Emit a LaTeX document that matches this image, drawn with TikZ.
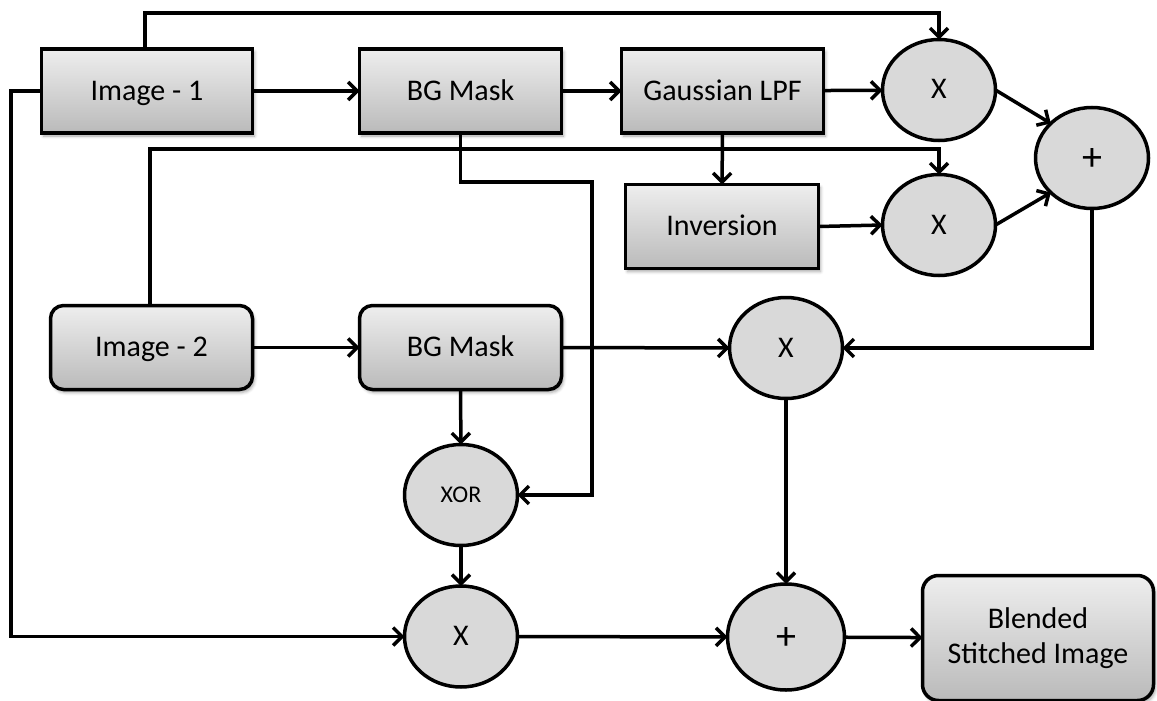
\documentclass[tikz,border=0pt]{standalone}
\usepackage{fontspec}
\setmainfont{Carlito}
\usetikzlibrary{arrows.meta,shapes.geometric,shadows.blur}
\definecolor{boxtop}{RGB}{238,238,238}
\definecolor{boxbot}{RGB}{186,186,186}
\definecolor{opfill}{RGB}{217,217,217}
\begin{document}
\begin{tikzpicture}[x=1pt,y=-1pt,
  line width=3.5pt,
  >={Straight Barb[length=9pt,width=18pt]},
  every node/.style={font=\fontsize{30}{35}\selectfont, align=center, inner sep=0pt, outer sep=0pt},
  label text/.style={text height=20pt, text depth=2pt},
  block/.style={draw, top color=boxtop, bottom color=boxbot, label text,
    blur shadow={shadow xshift=2pt, shadow yshift=-3pt, shadow opacity=35, shadow blur radius=3pt},
    minimum width=#1, minimum height=84pt},
  block/.default=202pt,
  rblock/.style={block=#1, rounded corners=13pt},
  rblock/.default=202pt,
  op/.style={draw, fill=opfill, ellipse, minimum width=113pt, minimum height=101pt, label text},
  plus/.style={font=\fontsize{40}{40}\selectfont, text height=24pt, text depth=0pt},
  flow/.style={->}
]
\useasboundingbox (0,0) rectangle (1157,701);

% processing blocks
\node[block=211pt] (img1) at (147,91) {Image - 1};
\node[block] (bg1) at (460.5,91) {BG Mask};
\node[block] (glpf) at (722.5,91) {Gaussian LPF};
\node[block=193pt] (inv) at (722,226.5) {Inversion};
\node[rblock] (img2) at (151.5,347.5) {Image - 2};
\node[rblock] (bg2) at (460.5,347.5) {BG Mask};
\node[rblock=231pt, minimum height=125pt, rounded corners=16pt, text height=, text depth=] (out) at (1038,638) {Blended\\Stitched Image};

% operators
\node[op] (x1) at (939,90) {X};
\node[op] (x2) at (939,225) {X};
\node[op, plus] (add) at (1092,158) {+};
\node[op] (mm) at (786,348) {X};
\node[op, font=\fontsize{24}{28}\selectfont, text height=15pt, text depth=1pt] (xor) at (461,495) {XOR};
\node[op] (mb) at (461,636.5) {X};
\node[op, plus, minimum width=117pt, minimum height=106pt] (ab) at (786,637) {+};

% routing levels
\coordinate (top) at (0,13);
\coordinate (mid) at (0,149);
\coordinate (bend) at (592,182);
\coordinate (left) at (11,0);

% connectors
\draw[flow] (img1) -- (bg1);
\draw[flow] (bg1) -- (glpf);
\draw[flow] (glpf) -- (x1);
\draw[flow] (glpf) -- (inv);
\draw[flow] (inv.east) -- (x2.west);
\draw[flow] (x1.east) -- (add.140);
\draw[flow] (x2.east) -- (add.220);
\draw[flow] ([xshift=-2pt]img1.north) -- ([xshift=-2pt]img1.north |- top) -| (x1.north);
\draw[flow] ([xshift=-1.5pt]img2.north) -- ([xshift=-1.5pt]img2.north |- mid) -| (x2.north);
\draw[flow] (bg1.south) |- (bend) |- (xor.east);
\draw[flow] (img2) -- (bg2);
\draw[flow] (bg2.east) -- (mm.west);
\draw[flow] (add.south) |- (mm.east);
\draw[flow] (bg2) -- (xor);
\draw[flow] (xor) -- (mb);
\draw[flow] (img1.west) -- (img1.west -| left) |- (mb.west);
\draw[flow] (mb) -- (ab);
\draw[flow] (mm) -- (ab);
\draw[flow] (ab) -- (out);
\end{tikzpicture}
\end{document}
